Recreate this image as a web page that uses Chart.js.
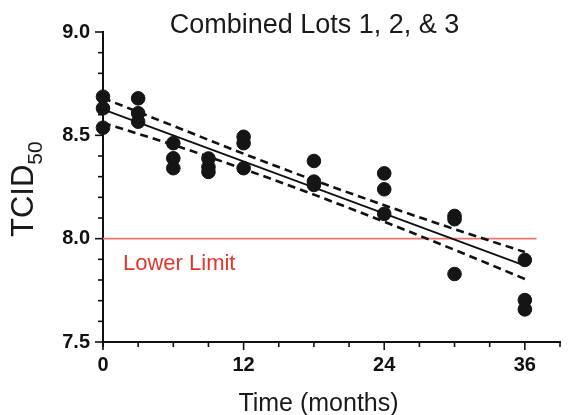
<!DOCTYPE html>
<html>
<head>
<meta charset="utf-8">
<script src="https://cdn.jsdelivr.net/npm/chart.js@4/dist/chart.umd.min.js"></script>
<style>
  html, body { margin: 0; padding: 0; background: #fff; }
  #wrap { width: 569px; height: 415px; position: relative; }
</style>
</head>
<body>
<div id="wrap"><canvas id="c" width="569" height="415"></canvas></div>
<script>
// ---- data ----
const chartTitle = "Combined Lots 1, 2, & 3";
const xTitle = "Time (months)";
const yTitleMain = "TCID";
const yTitleSub = "50";
const limitLabel = "Lower Limit";

const months = [0,0,0, 3,3,3, 6,6,6, 9,9,9, 12,12,12, 18,18,18, 24,24,24, 30,30,30, 36,36,36];
const tcid50 = [8.687,8.631,8.537, 8.679,8.607,8.566, 8.462,8.389,8.341, 8.388,8.347,8.323,
                8.493,8.462,8.341, 8.376,8.276,8.260, 8.316,8.239,8.120, 8.110,8.094,7.829,
                7.897,7.703,7.658];

const fitMonths = [0, 36];
const fitValues = [8.626, 7.870];

const bandMonths = [0, 6, 12, 18, 24, 30, 36];
const upperBand = [8.680, 8.546, 8.411, 8.283, 8.162, 8.046, 7.935];
const lowerBand = [8.560, 8.454, 8.337, 8.213, 8.082, 7.946, 7.805];

const limitMonths = [0, 37];
const limitValue = 8.0;

const xMin = 0, xMax = 39, xStep = 3, xLabelEvery = 12;
const yMin = 7.5, yMax = 9.0, yStep = 0.1, yLabelEvery = 0.5;

// ---- build ----
const pts = (xs, ys) => xs.map((x, i) => ({ x, y: ys[i] }));
const FONT = "'Liberation Sans', Arial, Helvetica, sans-serif";

const customText = {
  id: 'customText',
  afterDraw(chart) {
    const { ctx, chartArea: a, scales } = chart;
    const xs = scales.x, ys = scales.y;
    ctx.save();
    // tick marks (major longer than minor)
    ctx.strokeStyle = '#111';
    ctx.lineWidth = 1.6;
    for (let v = xMin; v <= xMax + 1e-9; v += xStep) {
      const px = xs.getPixelForValue(v);
      const major = Math.abs(v % xLabelEvery) < 1e-9;
      const len = major ? 8 : 5;
      ctx.beginPath();
      ctx.moveTo(px, a.bottom);
      ctx.lineTo(px, a.bottom + len);
      ctx.stroke();
    }
    const nY = Math.round((yMax - yMin) / yStep);
    for (let i = 0; i <= nY; i++) {
      const v = yMin + i * yStep;
      const py = ys.getPixelForValue(v);
      const r = v / yLabelEvery;
      const major = Math.abs(r - Math.round(r)) < 1e-6;
      const len = major ? 8 : 5;
      ctx.beginPath();
      ctx.moveTo(a.left, py);
      ctx.lineTo(a.left - len, py);
      ctx.stroke();
    }
    // small extension of y axis below x axis
    ctx.lineWidth = 2;
    ctx.beginPath();
    ctx.moveTo(a.left, a.bottom);
    ctx.lineTo(a.left, a.bottom + 5);
    ctx.stroke();

    // chart title
    ctx.fillStyle = '#1a1a1a';
    ctx.textBaseline = 'alphabetic';
    ctx.textAlign = 'center';
    ctx.font = '27px ' + FONT;
    ctx.fillText(chartTitle, (a.left + a.right) / 2 - 17, 32.5);

    // x title
    ctx.font = '25px ' + FONT;
    ctx.fillText(xTitle, (a.left + a.right) / 2 - 13, 411);

    // y title with subscript
    ctx.save();
    ctx.translate(33, 237);
    ctx.rotate(-Math.PI / 2);
    ctx.textAlign = 'left';
    ctx.font = '31px ' + FONT;
    ctx.fillText(yTitleMain, 0, 0);
    const w = ctx.measureText(yTitleMain).width;
    ctx.font = '21px ' + FONT;
    ctx.fillText(yTitleSub, w, 9);
    ctx.restore();

    // lower limit label
    ctx.fillStyle = '#e5352c';
    ctx.textAlign = 'left';
    ctx.font = '22px ' + FONT;
    ctx.fillText(limitLabel, a.left + 20, ys.getPixelForValue(limitValue) + 31);
    ctx.restore();
  }
};

new Chart(document.getElementById('c'), {
  type: 'scatter',
  data: {
    datasets: [
      {
        label: 'Lower limit', type: 'line', data: pts(limitMonths, [limitValue, limitValue]),
        borderColor: '#ef7570', borderWidth: 1.6, pointRadius: 0, fill: false, clip: false, order: 4
      },
      {
        label: 'Upper 95% CI', type: 'line', data: pts(bandMonths, upperBand),
        borderColor: '#111', borderWidth: 2.6, borderDash: [8, 5], pointRadius: 0,
        cubicInterpolationMode: 'monotone', fill: false, clip: false, order: 3
      },
      {
        label: 'Lower 95% CI', type: 'line', data: pts(bandMonths, lowerBand),
        borderColor: '#111', borderWidth: 2.6, borderDash: [8, 5], pointRadius: 0,
        cubicInterpolationMode: 'monotone', fill: false, clip: false, order: 3
      },
      {
        label: 'Fit', type: 'line', data: pts(fitMonths, fitValues),
        borderColor: '#111', borderWidth: 1.8, pointRadius: 0, fill: false, clip: false, order: 2
      },
      {
        label: 'TCID50', data: pts(months, tcid50),
        backgroundColor: '#151515', borderColor: '#151515', pointRadius: 6.8, pointHoverRadius: 6.8,
        clip: false, order: 1
      }
    ]
  },
  options: {
    responsive: false,
    animation: false,
    events: [],
    layout: { padding: { top: 32, right: 9, left: 0, bottom: 0 } },
    plugins: { legend: { display: false }, tooltip: { enabled: false }, title: { display: false } },
    scales: {
      x: {
        type: 'linear', min: xMin, max: xMax,
        border: { display: true, color: '#111', width: 2 },
        grid: { display: true, drawOnChartArea: false, tickLength: 8, tickColor: 'rgba(0,0,0,0)' },
        ticks: {
          stepSize: xStep, padding: 3, color: '#111', maxRotation: 0, autoSkip: false,
          font: { family: FONT, size: 20, weight: 'bold' },
          callback: (v) => (Math.abs(v % xLabelEvery) < 1e-9 ? String(v) : '')
        },
        afterFit: (s) => { s.height = 73; }
      },
      y: {
        type: 'linear', min: yMin, max: yMax,
        border: { display: true, color: '#111', width: 2 },
        grid: { display: true, drawOnChartArea: false, tickLength: 8, tickColor: 'rgba(0,0,0,0)' },
        ticks: {
          stepSize: yStep, padding: 5, color: '#111', autoSkip: false,
          font: { family: FONT, size: 20, weight: 'bold' },
          callback: (v) => {
            const r = v / yLabelEvery;
            return Math.abs(r - Math.round(r)) < 1e-6 ? Number(v).toFixed(1) : '';
          }
        },
        afterFit: (s) => { s.width = 103; }
      }
    }
  },
  plugins: [customText]
});
</script>
</body>
</html>
